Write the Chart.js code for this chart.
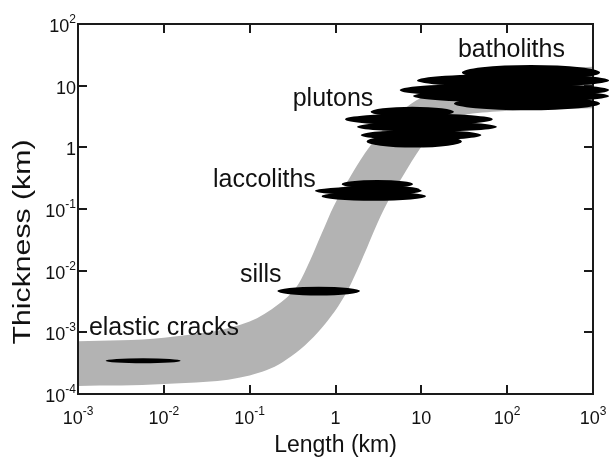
<!DOCTYPE html>
<html>
<head>
<meta charset="utf-8">
<script src="https://cdn.jsdelivr.net/npm/chart.js@4.4.1/dist/chart.umd.min.js"></script>
<style>
  html, body { margin: 0; padding: 0; background: #fff; }
  #chart { display: block; }
</style>
</head>
<body>
<canvas id="chart" width="609" height="459"></canvas>
<script>
// decades on both axes
const xDecades = [1e-3, 1e-2, 1e-1, 1, 10, 100, 1000];
const yDecades = [1e-4, 1e-3, 1e-2, 1e-1, 1, 10, 100];
const xTickBase = ['10', '10', '10', '1', '10', '10', '10'];
const xTickExp = ['-3', '-2', '-1', '', '', '2', '3'];
const yTickBase = ['10', '10', '10', '10', '1', '10', '10'];
const yTickExp = ['-4', '-3', '-2', '-1', '', '', '2'];

// grey band, upper and lower edge (length km, thickness km)
const upperX = [1e-3, 1e-2, 0.1, 0.22, 0.37, 0.51, 0.69, 0.95, 1.44, 2.2, 4.1, 7.6, 13, 33, 157, 1000];
const upperY = [7.2e-4, 8.2e-4, 1.5e-3, 2.9e-3, 6.1e-3, 0.015, 0.04, 0.11, 0.31, 0.8, 2.4, 5.1, 7.5, 12.3, 17.9, 20.3];
const lowerX = [1e-3, 1e-2, 0.1, 0.244, 0.625, 1.29, 1.78, 3.68, 6.0, 9.9, 14.3, 26.7, 76, 1000];
const lowerY = [1.35e-4, 1.45e-4, 2.0e-4, 3.3e-4, 1.0e-3, 4.0e-3, 0.01, 0.1, 0.33, 1.0, 1.9, 3.1, 3.8, 4.3];

// black bodies: [length from, length to, thickness from, thickness to]
const crackEllipses = [[2.1e-3, 1.57e-2, 3.15e-4, 3.8e-4]];
const sillEllipses = [[0.21, 1.93, 3.96e-3, 5.5e-3]];
const laccolithEllipses = [
  [1.18, 8.0, 0.217, 0.295],
  [0.577, 10.1, 0.169, 0.23],
  [1.0, 9.6, 0.18, 0.24],
  [0.69, 11.3, 0.136, 0.191]
];
const plutonEllipses = [
  [2.56, 24, 3.13, 4.54],
  [1.29, 68, 2.29, 3.54],
  [1.78, 76, 1.79, 2.59],
  [1.97, 50, 1.31, 1.9],
  [2.3, 29.7, 0.99, 1.57]
];
const batholithEllipses = [
  [29.7, 1208, 12.4, 21.6],
  [8.9, 1538, 9.5, 15.5],
  [5.6, 1538, 6.6, 10.9],
  [8.0, 1538, 5.4, 8.5],
  [24, 1208, 4.0, 6.6]
];

const bodyNames = ['elastic cracks', 'sills', 'laccoliths', 'plutons', 'batholiths'];
const nameX = [1.34e-3, 0.077, 0.0374, 0.317, 26.7];
const nameY = [9.06e-4, 6.55e-3, 0.2275, 4.68, 29.2];

const FAMILY = "'Liberation Sans', Arial, Helvetica, sans-serif";
const INK = '#111';

function drawPower(ctx, base, exp, px, py, align) {
  ctx.font = `18px ${FAMILY}`;
  const wb = ctx.measureText(base).width;
  ctx.font = `12px ${FAMILY}`;
  const we = exp ? ctx.measureText(exp).width : 0;
  const left = align === 'center' ? px - (wb + we) / 2 : px - (wb + we);
  ctx.textAlign = 'left';
  ctx.textBaseline = 'alphabetic';
  ctx.font = `18px ${FAMILY}`;
  ctx.fillText(base, left, py);
  if (exp) {
    ctx.font = `12px ${FAMILY}`;
    ctx.fillText(exp, left + wb, py - 9);
  }
}

const decor = {
  id: 'decor',
  afterDatasetsDraw(chart) {
    const { ctx, chartArea: a, scales: { x, y } } = chart;
    ctx.save();

    // frame and inward ticks
    ctx.strokeStyle = '#1a1a1a';
    ctx.lineWidth = 2;
    ctx.strokeRect(a.left, a.top, a.right - a.left, a.bottom - a.top);
    ctx.beginPath();
    xDecades.forEach(v => {
      const px = Math.round(x.getPixelForValue(v));
      ctx.moveTo(px, a.bottom); ctx.lineTo(px, a.bottom - 9);
      ctx.moveTo(px, a.top); ctx.lineTo(px, a.top + 9);
    });
    yDecades.forEach(v => {
      const py = Math.round(y.getPixelForValue(v));
      ctx.moveTo(a.left, py); ctx.lineTo(a.left + 9, py);
      ctx.moveTo(a.right, py); ctx.lineTo(a.right - 9, py);
    });
    ctx.stroke();

    // bodies
    ctx.fillStyle = '#000';
    [crackEllipses, sillEllipses, laccolithEllipses, plutonEllipses, batholithEllipses].forEach(group => {
      group.forEach(([x0, x1, y0, y1]) => {
        const l = x.getPixelForValue(x0), r = x.getPixelForValue(x1);
        const t = y.getPixelForValue(y1), b = y.getPixelForValue(y0);
        ctx.beginPath();
        ctx.ellipse((l + r) / 2, (t + b) / 2, (r - l) / 2, (b - t) / 2, 0, 0, Math.PI * 2);
        ctx.fill();
      });
    });

    // names
    ctx.fillStyle = INK;
    ctx.font = `25px ${FAMILY}`;
    ctx.textAlign = 'left';
    ctx.textBaseline = 'alphabetic';
    bodyNames.forEach((name, i) => {
      ctx.fillText(name, x.getPixelForValue(nameX[i]), y.getPixelForValue(nameY[i]));
    });

    // tick labels
    xDecades.forEach((v, i) => drawPower(ctx, xTickBase[i], xTickExp[i], x.getPixelForValue(v), a.bottom + 30, 'center'));
    yDecades.forEach((v, i) => drawPower(ctx, yTickBase[i], yTickExp[i], a.left - 2, y.getPixelForValue(v) + 8, 'right'));

    // axis titles
    ctx.font = `23px ${FAMILY}`;
    ctx.textAlign = 'center';
    ctx.fillText('Length (km)', (a.left + a.right) / 2, 452);
    const w = ctx.measureText('Thickness (km)').width;
    ctx.translate(30, 242);
    ctx.rotate(-Math.PI / 2);
    ctx.scale(205 / w, 1);
    ctx.fillText('Thickness (km)', 0, 0);
    ctx.restore();
  }
};

new Chart(document.getElementById('chart'), {
  type: 'line',
  data: {
    datasets: [
      {
        label: 'upper',
        data: upperX.map((v, i) => ({ x: v, y: upperY[i] })),
        fill: '+1',
        backgroundColor: '#b3b3b3',
        borderColor: 'rgba(0,0,0,0)',
        borderWidth: 0,
        pointRadius: 0,
        cubicInterpolationMode: 'monotone'
      },
      {
        label: 'lower',
        data: lowerX.map((v, i) => ({ x: v, y: lowerY[i] })),
        fill: false,
        borderColor: 'rgba(0,0,0,0)',
        borderWidth: 0,
        pointRadius: 0,
        cubicInterpolationMode: 'monotone'
      }
    ]
  },
  options: {
    responsive: false,
    animation: false,
    devicePixelRatio: 1,
    layout: { padding: { left: 78, top: 24, right: 16, bottom: 65 } },
    plugins: { legend: { display: false }, tooltip: { enabled: false } },
    scales: {
      x: {
        type: 'logarithmic', min: 1e-3, max: 1e3, display: false,
        afterBuildTicks: s => { s.ticks = xDecades.map(v => ({ value: v })); }
      },
      y: {
        type: 'logarithmic', min: 1e-4, max: 1e2, display: false,
        afterBuildTicks: s => { s.ticks = yDecades.map(v => ({ value: v })); }
      }
    }
  },
  plugins: [decor]
});
</script>
</body>
</html>
